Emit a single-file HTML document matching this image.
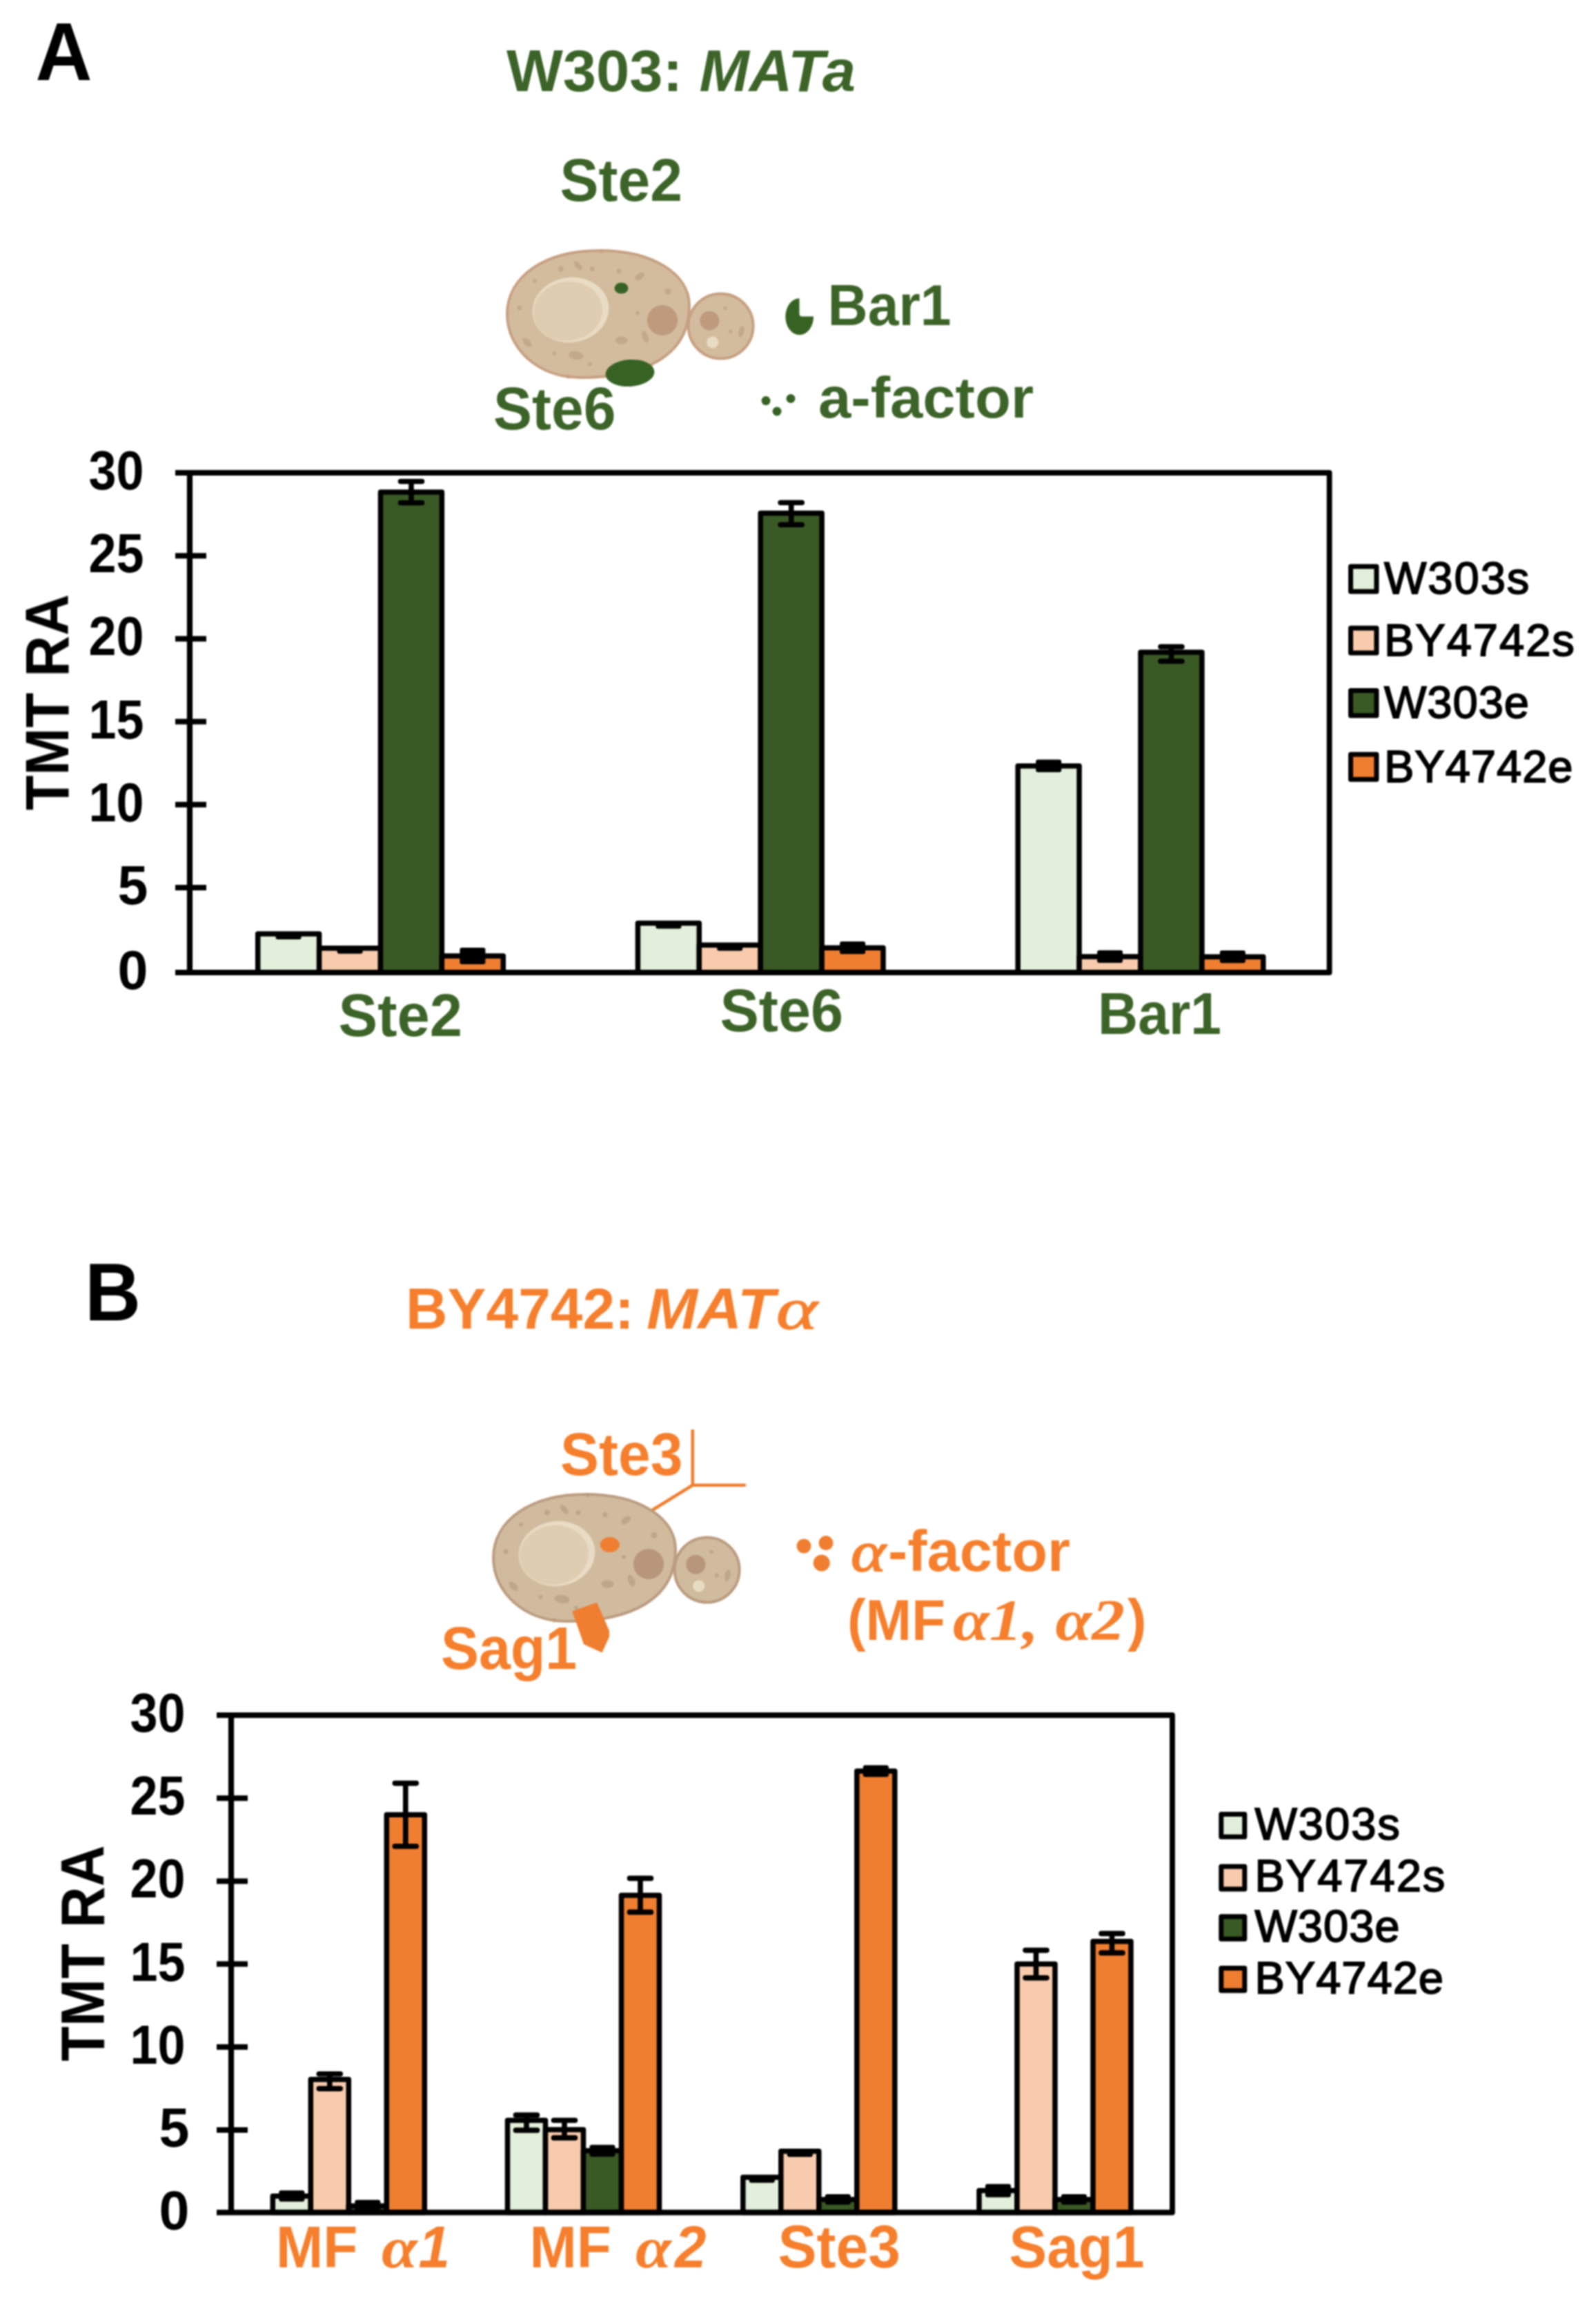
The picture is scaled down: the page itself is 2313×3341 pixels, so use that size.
<!DOCTYPE html>
<html lang="en">
<head>
<meta charset="utf-8">
<title>Figure: mating-type specific proteins (TMT RA)</title>
<style>html,body{margin:0;padding:0;background:#fff;overflow:hidden;width:2313px;height:3341px}svg{display:block}text{white-space:pre}</style>
</head>
<body>
<svg width="2313" height="3341" viewBox="0 0 2313 3341">
<rect width="2313" height="3341" fill="#fff"/>
<defs><filter id="soft" x="0" y="0" width="100%" height="100%" filterUnits="userSpaceOnUse" color-interpolation-filters="sRGB"><feGaussianBlur stdDeviation="0.9"/></filter></defs>
<g filter="url(#soft)">
<text x="51.5" y="115.5" font-family='"Liberation Sans", Arial, Helvetica, sans-serif' font-size="118" font-weight="bold" font-style="normal" fill="#000" text-anchor="start" textLength="82" lengthAdjust="spacingAndGlyphs">A</text>
<text x="734" y="132" font-family='"Liberation Sans", Arial, Helvetica, sans-serif' font-size="86" font-weight="bold" fill="#3C6428" textLength="506" lengthAdjust="spacingAndGlyphs">W303: <tspan font-style="italic">MATa</tspan></text>
<text x="811.5" y="290.5" font-family='"Liberation Sans", Arial, Helvetica, sans-serif' font-size="87.4" font-weight="bold" font-style="normal" fill="#3C6428" text-anchor="start" textLength="177.4" lengthAdjust="spacingAndGlyphs">Ste2</text>
<g transform="translate(0,0)">
<circle cx="1044.6" cy="472.5" r="47" fill="#D3BC9E" stroke="#C7A081" stroke-width="4"/>
<circle cx="1028.3" cy="464.7" r="14" fill="#BF9A7D"/>
<circle cx="1032.7" cy="496" r="8.5" fill="#E9DCC4"/>
<circle cx="1051" cy="446.5" r="2.8" fill="#C3A98B"/>
<circle cx="1058.7" cy="480.4" r="3" fill="#C3A98B"/>
<ellipse cx="1074.4" cy="480.4" rx="4" ry="8.5" fill="#C3A98B" transform="rotate(12 1074.4 480.4)"/>
<path d="M735,455 C735,400 790,363 869,363 C945,363 999,396 999,443 C999,515 935,547 841,547 C780,547 735,505 735,455 Z" fill="#D3BC9E" stroke="#C7A081" stroke-width="4"/>
<ellipse cx="827" cy="449" rx="55.5" ry="47" fill="#E9DCC4" transform="rotate(-8 827 449)"/>
<ellipse cx="823" cy="451" rx="50" ry="43" fill="#DFCDB1" transform="rotate(-8 823 451)"/>
<circle cx="960" cy="464" r="22" fill="#BF9A7D"/>
<ellipse cx="812.8" cy="389.5" rx="4" ry="4" fill="#C3A98B" transform="rotate(0 812.8 389.5)"/>
<ellipse cx="837.8" cy="384.8" rx="8" ry="4" fill="#C3A98B" transform="rotate(50 837.8 384.8)"/>
<ellipse cx="858" cy="389.5" rx="3.5" ry="3.5" fill="#C3A98B" transform="rotate(0 858 389.5)"/>
<ellipse cx="897" cy="392.7" rx="3.5" ry="3.5" fill="#C3A98B" transform="rotate(0 897 392.7)"/>
<ellipse cx="927" cy="400.5" rx="8" ry="4.5" fill="#C3A98B" transform="rotate(-35 927 400.5)"/>
<ellipse cx="968" cy="422.4" rx="4.5" ry="4.5" fill="#C3A98B" transform="rotate(0 968 422.4)"/>
<ellipse cx="775" cy="406.8" rx="3" ry="3" fill="#C3A98B" transform="rotate(0 775 406.8)"/>
<ellipse cx="753" cy="446" rx="3.5" ry="3.5" fill="#C3A98B" transform="rotate(0 753 446)"/>
<ellipse cx="924" cy="453.7" rx="3" ry="3" fill="#C3A98B" transform="rotate(0 924 453.7)"/>
<ellipse cx="935" cy="488" rx="4.5" ry="9" fill="#C3A98B" transform="rotate(-20 935 488)"/>
<ellipse cx="900.5" cy="493" rx="9" ry="5.5" fill="#C3A98B" transform="rotate(0 900.5 493)"/>
<ellipse cx="764" cy="496" rx="8" ry="4.5" fill="#C3A98B" transform="rotate(45 764 496)"/>
<ellipse cx="803.4" cy="511.7" rx="3" ry="3" fill="#C3A98B" transform="rotate(0 803.4 511.7)"/>
<ellipse cx="834.7" cy="514.8" rx="11" ry="6" fill="#C3A98B" transform="rotate(10 834.7 514.8)"/>
<ellipse cx="855" cy="527.4" rx="3" ry="3" fill="#C3A98B" transform="rotate(0 855 527.4)"/>
<circle cx="823.7" cy="545.5" r="3" fill="#C7A081"/>
<circle cx="871.7" cy="363.8" r="3" fill="#C7A081"/>
</g>
<ellipse cx="900.5" cy="417.5" rx="10" ry="8" fill="#366324"/>
<ellipse cx="913" cy="540.5" rx="35.5" ry="19.5" fill="#366324" transform="rotate(-4 913 540.5)"/>
<path d="M1158.5,432.3 V454.5 Q1158.5,458.5 1162.5,458.5 H1179 A20.3,26.5 0 0 1 1158.6,485.3 A20.3,26.5 0 0 1 1138.3,458.8 A20.3,26.5 0 0 1 1158.5,432.3 Z" fill="#366324"/>
<text x="1199.5" y="471" font-family='"Liberation Sans", Arial, Helvetica, sans-serif' font-size="84" font-weight="bold" font-style="normal" fill="#3C6428" text-anchor="start" textLength="179" lengthAdjust="spacingAndGlyphs">Bar1</text>
<circle cx="1110" cy="580.6" r="6.5" fill="#366324"/>
<circle cx="1146" cy="577.5" r="6.5" fill="#366324"/>
<circle cx="1126" cy="596" r="6.5" fill="#366324"/>
<text x="1186" y="604.5" font-family='"Liberation Sans", Arial, Helvetica, sans-serif' font-size="83" font-weight="bold" font-style="normal" fill="#3C6428" text-anchor="start" textLength="312" lengthAdjust="spacingAndGlyphs">a-factor</text>
<text x="715" y="622" font-family='"Liberation Sans", Arial, Helvetica, sans-serif' font-size="87.4" font-weight="bold" font-style="normal" fill="#3C6428" text-anchor="start" textLength="177.4" lengthAdjust="spacingAndGlyphs">Ste6</text>
<rect x="373.7" y="1353.0" width="88.9" height="56.0" fill="#E2EFDA" stroke="#000" stroke-width="7.5" stroke-linejoin="round"/>
<rect x="462.6" y="1373.7" width="88.9" height="35.3" fill="#F8CBAD" stroke="#000" stroke-width="7.5" stroke-linejoin="round"/>
<rect x="551.5" y="713.0" width="88.9" height="696.0" fill="#3A5A25" stroke="#000" stroke-width="7.5" stroke-linejoin="round"/>
<rect x="640.4" y="1385.0" width="88.9" height="24.0" fill="#EF7E30" stroke="#000" stroke-width="7.5" stroke-linejoin="round"/>
<rect x="399.6" y="1349.9" width="37" height="11.2" rx="3" fill="#000"/>
<rect x="488.6" y="1370.6" width="37" height="11.2" rx="3" fill="#000"/>
<path d="M596.0,697.5 V728.5 M580.5,697.5 H611.5 M580.5,728.5 H611.5" stroke="#000" stroke-width="7.6" stroke-linecap="round" fill="none"/>
<rect x="666.4" y="1372.9" width="37" height="24.2" rx="3" fill="#000"/>
<rect x="924.4" y="1337.4" width="88.9" height="71.6" fill="#E2EFDA" stroke="#000" stroke-width="7.5" stroke-linejoin="round"/>
<rect x="1013.3" y="1369.3" width="88.9" height="39.7" fill="#F8CBAD" stroke="#000" stroke-width="7.5" stroke-linejoin="round"/>
<rect x="1102.2" y="743.6" width="88.9" height="665.4" fill="#3A5A25" stroke="#000" stroke-width="7.5" stroke-linejoin="round"/>
<rect x="1191.1" y="1373.2" width="88.9" height="35.8" fill="#EF7E30" stroke="#000" stroke-width="7.5" stroke-linejoin="round"/>
<rect x="950.4" y="1334.3" width="37" height="11.2" rx="3" fill="#000"/>
<rect x="1039.2" y="1366.2" width="37" height="11.2" rx="3" fill="#000"/>
<path d="M1146.7,728.3 V760.3 M1131.2,728.3 H1162.2 M1131.2,760.3 H1162.2" stroke="#000" stroke-width="7.6" stroke-linecap="round" fill="none"/>
<rect x="1217.1" y="1364.1" width="37" height="18.2" rx="3" fill="#000"/>
<rect x="1475.2" y="1109.7" width="88.9" height="299.3" fill="#E2EFDA" stroke="#000" stroke-width="7.5" stroke-linejoin="round"/>
<rect x="1564.1" y="1385.9" width="88.9" height="23.1" fill="#F8CBAD" stroke="#000" stroke-width="7.5" stroke-linejoin="round"/>
<rect x="1653.0" y="945.0" width="88.9" height="464.0" fill="#3A5A25" stroke="#000" stroke-width="7.5" stroke-linejoin="round"/>
<rect x="1741.9" y="1386.2" width="88.9" height="22.8" fill="#EF7E30" stroke="#000" stroke-width="7.5" stroke-linejoin="round"/>
<rect x="1501.2" y="1100.6" width="37" height="18.2" rx="3" fill="#000"/>
<rect x="1590.1" y="1376.8" width="37" height="18.2" rx="3" fill="#000"/>
<path d="M1697.5,937.0 V958.0 M1682.0,937.0 H1713.0 M1682.0,958.0 H1713.0" stroke="#000" stroke-width="7.6" stroke-linecap="round" fill="none"/>
<rect x="1767.9" y="1377.1" width="37" height="18.2" rx="3" fill="#000"/>
<path d="M254,685 H1926.6 V1409 H254" stroke="#000" stroke-width="7.8" fill="none" stroke-linejoin="round"/>
<path d="M275,685 V1409" stroke="#000" stroke-width="8.2" fill="none"/>
<text x="208.5" y="709.0" font-family='"Liberation Sans", Arial, Helvetica, sans-serif' font-size="79" font-weight="bold" font-style="normal" fill="#000" text-anchor="end" textLength="80" lengthAdjust="spacingAndGlyphs">30</text>
<path d="M254,805.2 H299" stroke="#000" stroke-width="8"/>
<text x="208.5" y="829.2" font-family='"Liberation Sans", Arial, Helvetica, sans-serif' font-size="79" font-weight="bold" font-style="normal" fill="#000" text-anchor="end" textLength="80" lengthAdjust="spacingAndGlyphs">25</text>
<path d="M254,925.4 H299" stroke="#000" stroke-width="8"/>
<text x="208.5" y="949.4" font-family='"Liberation Sans", Arial, Helvetica, sans-serif' font-size="79" font-weight="bold" font-style="normal" fill="#000" text-anchor="end" textLength="80" lengthAdjust="spacingAndGlyphs">20</text>
<path d="M254,1045.6 H299" stroke="#000" stroke-width="8"/>
<text x="208.5" y="1069.6" font-family='"Liberation Sans", Arial, Helvetica, sans-serif' font-size="79" font-weight="bold" font-style="normal" fill="#000" text-anchor="end" textLength="80" lengthAdjust="spacingAndGlyphs">15</text>
<path d="M254,1165.8 H299" stroke="#000" stroke-width="8"/>
<text x="208.5" y="1189.8" font-family='"Liberation Sans", Arial, Helvetica, sans-serif' font-size="79" font-weight="bold" font-style="normal" fill="#000" text-anchor="end" textLength="80" lengthAdjust="spacingAndGlyphs">10</text>
<path d="M254,1286.0 H299" stroke="#000" stroke-width="8"/>
<text x="214.5" y="1310.0" font-family='"Liberation Sans", Arial, Helvetica, sans-serif' font-size="79" font-weight="bold" font-style="normal" fill="#000" text-anchor="end" >5</text>
<text x="214.5" y="1433.0" font-family='"Liberation Sans", Arial, Helvetica, sans-serif' font-size="79" font-weight="bold" font-style="normal" fill="#000" text-anchor="end" >0</text>
<text transform="translate(99,1017.5) rotate(-90)" text-anchor="middle" font-family='"Liberation Sans", Arial, Helvetica, sans-serif' font-size="89" font-weight="bold" fill="#000" textLength="313" lengthAdjust="spacingAndGlyphs">TMT RA</text>
<text x="490.5" y="1500.5" font-family='"Liberation Sans", Arial, Helvetica, sans-serif' font-size="86.3" font-weight="bold" font-style="normal" fill="#3C6428" text-anchor="start" textLength="179.5" lengthAdjust="spacingAndGlyphs">Ste2</text>
<text x="1043.5" y="1494" font-family='"Liberation Sans", Arial, Helvetica, sans-serif' font-size="86.3" font-weight="bold" font-style="normal" fill="#3C6428" text-anchor="start" textLength="178.5" lengthAdjust="spacingAndGlyphs">Ste6</text>
<text x="1591" y="1497.5" font-family='"Liberation Sans", Arial, Helvetica, sans-serif' font-size="85.3" font-weight="bold" font-style="normal" fill="#3C6428" text-anchor="start" textLength="179.0" lengthAdjust="spacingAndGlyphs">Bar1</text>
<rect x="1957.5" y="820.6999999999999" width="37.4" height="36.2" fill="#E2EFDA" stroke="#000" stroke-width="7" stroke-linejoin="round"/>
<text x="2006" y="860.4" font-family='"Liberation Sans", Arial, Helvetica, sans-serif' font-size="65" font-weight="normal" font-style="normal" fill="#000" text-anchor="start" letter-spacing="2" stroke="#000" stroke-width="1.8">W303s</text>
<rect x="1957.5" y="909.9" width="37.4" height="36.2" fill="#F8CBAD" stroke="#000" stroke-width="7" stroke-linejoin="round"/>
<text x="2006" y="949.6" font-family='"Liberation Sans", Arial, Helvetica, sans-serif' font-size="65" font-weight="normal" font-style="normal" fill="#000" text-anchor="start" letter-spacing="2" stroke="#000" stroke-width="1.8">BY4742s</text>
<rect x="1957.5" y="1000.5" width="37.4" height="36.2" fill="#3A5A25" stroke="#000" stroke-width="7" stroke-linejoin="round"/>
<text x="2006" y="1040.2" font-family='"Liberation Sans", Arial, Helvetica, sans-serif' font-size="65" font-weight="normal" font-style="normal" fill="#000" text-anchor="start" letter-spacing="1" stroke="#000" stroke-width="1.8">W303e</text>
<rect x="1957.5" y="1093.1" width="37.4" height="36.2" fill="#EF7E30" stroke="#000" stroke-width="7" stroke-linejoin="round"/>
<text x="2006" y="1132.8" font-family='"Liberation Sans", Arial, Helvetica, sans-serif' font-size="65" font-weight="normal" font-style="normal" fill="#000" text-anchor="start" letter-spacing="1" stroke="#000" stroke-width="1.8">BY4742e</text>
<text x="123" y="1912.5" font-family='"Liberation Sans", Arial, Helvetica, sans-serif' font-size="119" font-weight="bold" font-style="normal" fill="#000" text-anchor="start" textLength="81" lengthAdjust="spacingAndGlyphs">B</text>
<text x="588" y="1925" font-family='"Liberation Sans", Arial, Helvetica, sans-serif' font-size="84" font-weight="bold" fill="#F57F2C" textLength="331" lengthAdjust="spacingAndGlyphs">BY4742:</text>
<text x="937" y="1925" font-family='"Liberation Sans", Arial, Helvetica, sans-serif' font-size="84" font-weight="bold" font-style="italic" fill="#F57F2C" textLength="186" lengthAdjust="spacingAndGlyphs">MAT</text>
<text x="1125" y="1925" font-family='"Liberation Serif", "Times New Roman", serif' font-size="85" font-weight="normal" font-style="italic" fill="#F57F2C" text-anchor="start" stroke="#F57F2C" stroke-width="1.4" textLength="59.8" lengthAdjust="spacingAndGlyphs">α</text>
<text x="812" y="2136.5" font-family='"Liberation Sans", Arial, Helvetica, sans-serif' font-size="87.4" font-weight="bold" font-style="normal" fill="#F57F2C" text-anchor="start" textLength="177.4" lengthAdjust="spacingAndGlyphs">Ste3</text>
<path d="M1003.8,2073 V2151.8 H1079 M1003.8,2151.8 L946,2187.5" stroke="#EF7E30" stroke-width="4.6" fill="none" stroke-linecap="round" stroke-linejoin="round"/>
<g transform="translate(-20,1802)">
<circle cx="1044.6" cy="472.5" r="47" fill="#D0BB9E" stroke="#BC9C80" stroke-width="4"/>
<circle cx="1028.3" cy="464.7" r="14" fill="#B8967B"/>
<circle cx="1032.7" cy="496" r="8.5" fill="#E9DCC4"/>
<circle cx="1051" cy="446.5" r="2.8" fill="#BDA689"/>
<circle cx="1058.7" cy="480.4" r="3" fill="#BDA689"/>
<ellipse cx="1074.4" cy="480.4" rx="4" ry="8.5" fill="#BDA689" transform="rotate(12 1074.4 480.4)"/>
<path d="M735,455 C735,400 790,363 869,363 C945,363 999,396 999,443 C999,515 935,547 841,547 C780,547 735,505 735,455 Z" fill="#D0BB9E" stroke="#BC9C80" stroke-width="4"/>
<ellipse cx="827" cy="449" rx="55.5" ry="47" fill="#E9DCC4" transform="rotate(-8 827 449)"/>
<ellipse cx="823" cy="451" rx="50" ry="43" fill="#DFCDB1" transform="rotate(-8 823 451)"/>
<circle cx="960" cy="464" r="22" fill="#B8967B"/>
<ellipse cx="812.8" cy="389.5" rx="4" ry="4" fill="#BDA689" transform="rotate(0 812.8 389.5)"/>
<ellipse cx="837.8" cy="384.8" rx="8" ry="4" fill="#BDA689" transform="rotate(50 837.8 384.8)"/>
<ellipse cx="858" cy="389.5" rx="3.5" ry="3.5" fill="#BDA689" transform="rotate(0 858 389.5)"/>
<ellipse cx="897" cy="392.7" rx="3.5" ry="3.5" fill="#BDA689" transform="rotate(0 897 392.7)"/>
<ellipse cx="927" cy="400.5" rx="8" ry="4.5" fill="#BDA689" transform="rotate(-35 927 400.5)"/>
<ellipse cx="968" cy="422.4" rx="4.5" ry="4.5" fill="#BDA689" transform="rotate(0 968 422.4)"/>
<ellipse cx="775" cy="406.8" rx="3" ry="3" fill="#BDA689" transform="rotate(0 775 406.8)"/>
<ellipse cx="753" cy="446" rx="3.5" ry="3.5" fill="#BDA689" transform="rotate(0 753 446)"/>
<ellipse cx="924" cy="453.7" rx="3" ry="3" fill="#BDA689" transform="rotate(0 924 453.7)"/>
<ellipse cx="935" cy="488" rx="4.5" ry="9" fill="#BDA689" transform="rotate(-20 935 488)"/>
<ellipse cx="900.5" cy="493" rx="9" ry="5.5" fill="#BDA689" transform="rotate(0 900.5 493)"/>
<ellipse cx="764" cy="496" rx="8" ry="4.5" fill="#BDA689" transform="rotate(45 764 496)"/>
<ellipse cx="803.4" cy="511.7" rx="3" ry="3" fill="#BDA689" transform="rotate(0 803.4 511.7)"/>
<ellipse cx="834.7" cy="514.8" rx="11" ry="6" fill="#BDA689" transform="rotate(10 834.7 514.8)"/>
<ellipse cx="855" cy="527.4" rx="3" ry="3" fill="#BDA689" transform="rotate(0 855 527.4)"/>
<circle cx="823.7" cy="545.5" r="3" fill="#BC9C80"/>
<circle cx="871.7" cy="363.8" r="3" fill="#BC9C80"/>
</g>
<ellipse cx="883.8" cy="2238" rx="14" ry="11" fill="#EF7E30"/>
<path d="M830.5,2335 L864.4,2323 L882,2362.7 L882,2371.4 L872,2393 L846.8,2381.5 Z" fill="#EF7E30" stroke="#EF7E30" stroke-width="2" stroke-linejoin="round"/>
<text x="639" y="2418" font-family='"Liberation Sans", Arial, Helvetica, sans-serif' font-size="87.4" font-weight="bold" font-style="normal" fill="#F57F2C" text-anchor="start" textLength="197.2" lengthAdjust="spacingAndGlyphs">Sag1</text>
<circle cx="1165" cy="2240" r="10.5" fill="#EF7E30"/>
<circle cx="1197" cy="2235.6" r="10.5" fill="#EF7E30"/>
<circle cx="1190.7" cy="2264.6" r="12" fill="#EF7E30"/>
<text x="1233" y="2276" font-family='"Liberation Serif", "Times New Roman", serif' font-size="82" font-weight="normal" font-style="italic" fill="#F57F2C" text-anchor="start" stroke="#F57F2C" stroke-width="1.8" textLength="50.8" lengthAdjust="spacingAndGlyphs">α</text>
<text x="1287" y="2276" font-family='"Liberation Sans", Arial, Helvetica, sans-serif' font-size="83" font-weight="bold" font-style="normal" fill="#F57F2C" text-anchor="start" textLength="264" lengthAdjust="spacingAndGlyphs">-factor</text>
<text x="1228" y="2375.5" font-family='"Liberation Sans", Arial, Helvetica, sans-serif' font-size="83" font-weight="bold" font-style="normal" fill="#F57F2C" text-anchor="start" textLength="142" lengthAdjust="spacingAndGlyphs">(MF</text>
<text x="1381" y="2375.5" font-family='"Liberation Serif", "Times New Roman", serif' font-size="84" font-weight="bold" font-style="italic" fill="#F57F2C" textLength="249" lengthAdjust="spacingAndGlyphs">α1, α2</text>
<text x="1634" y="2375.5" font-family='"Liberation Sans", Arial, Helvetica, sans-serif' font-size="83" font-weight="bold" font-style="normal" fill="#F57F2C" text-anchor="start" >)</text>
<rect x="395.3" y="3181.7" width="55.0" height="23.8" fill="#E2EFDA" stroke="#000" stroke-width="7.5" stroke-linejoin="round"/>
<rect x="450.3" y="3012.7" width="55.0" height="192.8" fill="#F8CBAD" stroke="#000" stroke-width="7.5" stroke-linejoin="round"/>
<rect x="505.3" y="3195.9" width="55.0" height="9.6" fill="#3A5A25" stroke="#000" stroke-width="7.5" stroke-linejoin="round"/>
<rect x="560.3" y="2629.3" width="55.0" height="576.2" fill="#EF7E30" stroke="#000" stroke-width="7.5" stroke-linejoin="round"/>
<rect x="404.3" y="3173.6" width="37" height="16.2" rx="3" fill="#000"/>
<path d="M477.8,3004.7 V3026.1 M462.3,3004.7 H493.3 M462.3,3026.1 H493.3" stroke="#000" stroke-width="7.6" stroke-linecap="round" fill="none"/>
<rect x="514.3" y="3187.3" width="37" height="17.2" rx="3" fill="#000"/>
<path d="M587.8,2583.6 V2675.0 M572.3,2583.6 H603.3 M572.3,2675.0 H603.3" stroke="#000" stroke-width="7.6" stroke-linecap="round" fill="none"/>
<rect x="735.5" y="3072.1" width="55.0" height="133.4" fill="#E2EFDA" stroke="#000" stroke-width="7.5" stroke-linejoin="round"/>
<rect x="790.5" y="3085.5" width="55.0" height="120.0" fill="#F8CBAD" stroke="#000" stroke-width="7.5" stroke-linejoin="round"/>
<rect x="845.5" y="3116.1" width="55.0" height="89.4" fill="#3A5A25" stroke="#000" stroke-width="7.5" stroke-linejoin="round"/>
<rect x="900.5" y="2745.9" width="55.0" height="459.6" fill="#EF7E30" stroke="#000" stroke-width="7.5" stroke-linejoin="round"/>
<path d="M763.0,3064.4 V3086.4 M747.5,3064.4 H778.5 M747.5,3086.4 H778.5" stroke="#000" stroke-width="7.6" stroke-linecap="round" fill="none"/>
<path d="M818.0,3072.0 V3097.4 M802.5,3072.0 H833.5 M802.5,3097.4 H833.5" stroke="#000" stroke-width="7.6" stroke-linecap="round" fill="none"/>
<rect x="854.5" y="3107.5" width="37" height="17.2" rx="3" fill="#000"/>
<path d="M928.0,2721.4 V2770.4 M912.5,2721.4 H943.5 M912.5,2770.4 H943.5" stroke="#000" stroke-width="7.6" stroke-linecap="round" fill="none"/>
<rect x="1076.8" y="3154.5" width="55.0" height="51.0" fill="#E2EFDA" stroke="#000" stroke-width="7.5" stroke-linejoin="round"/>
<rect x="1131.8" y="3116.8" width="55.0" height="88.7" fill="#F8CBAD" stroke="#000" stroke-width="7.5" stroke-linejoin="round"/>
<rect x="1186.8" y="3186.7" width="55.0" height="18.8" fill="#3A5A25" stroke="#000" stroke-width="7.5" stroke-linejoin="round"/>
<rect x="1241.8" y="2566.0" width="55.0" height="639.5" fill="#EF7E30" stroke="#000" stroke-width="7.5" stroke-linejoin="round"/>
<rect x="1085.8" y="3151.4" width="37" height="11.2" rx="3" fill="#000"/>
<rect x="1140.8" y="3113.7" width="37" height="11.2" rx="3" fill="#000"/>
<rect x="1195.8" y="3179.1" width="37" height="15.2" rx="3" fill="#000"/>
<rect x="1250.8" y="2557.4" width="37" height="17.2" rx="3" fill="#000"/>
<rect x="1419.0" y="3173.8" width="55.0" height="31.7" fill="#E2EFDA" stroke="#000" stroke-width="7.5" stroke-linejoin="round"/>
<rect x="1474.0" y="2845.6" width="55.0" height="359.9" fill="#F8CBAD" stroke="#000" stroke-width="7.5" stroke-linejoin="round"/>
<rect x="1529.0" y="3186.7" width="55.0" height="18.8" fill="#3A5A25" stroke="#000" stroke-width="7.5" stroke-linejoin="round"/>
<rect x="1584.0" y="2812.7" width="55.0" height="392.8" fill="#EF7E30" stroke="#000" stroke-width="7.5" stroke-linejoin="round"/>
<rect x="1428.0" y="3164.2" width="37" height="19.2" rx="3" fill="#000"/>
<path d="M1501.5,2825.6 V2865.6 M1486.0,2825.6 H1517.0 M1486.0,2865.6 H1517.0" stroke="#000" stroke-width="7.6" stroke-linecap="round" fill="none"/>
<rect x="1538.0" y="3179.1" width="37" height="15.2" rx="3" fill="#000"/>
<path d="M1611.5,2801.4 V2829.4 M1596.0,2801.4 H1627.0 M1596.0,2829.4 H1627.0" stroke="#000" stroke-width="7.6" stroke-linecap="round" fill="none"/>
<path d="M314,2485 H1699 V3205.5 H314" stroke="#000" stroke-width="7.8" fill="none" stroke-linejoin="round"/>
<path d="M335,2485 V3205.5" stroke="#000" stroke-width="8.2" fill="none"/>
<text x="268.5" y="2509.0" font-family='"Liberation Sans", Arial, Helvetica, sans-serif' font-size="79" font-weight="bold" font-style="normal" fill="#000" text-anchor="end" textLength="80" lengthAdjust="spacingAndGlyphs">30</text>
<path d="M314,2605.2 H359" stroke="#000" stroke-width="8"/>
<text x="268.5" y="2629.2" font-family='"Liberation Sans", Arial, Helvetica, sans-serif' font-size="79" font-weight="bold" font-style="normal" fill="#000" text-anchor="end" textLength="80" lengthAdjust="spacingAndGlyphs">25</text>
<path d="M314,2725.4 H359" stroke="#000" stroke-width="8"/>
<text x="268.5" y="2749.4" font-family='"Liberation Sans", Arial, Helvetica, sans-serif' font-size="79" font-weight="bold" font-style="normal" fill="#000" text-anchor="end" textLength="80" lengthAdjust="spacingAndGlyphs">20</text>
<path d="M314,2845.6 H359" stroke="#000" stroke-width="8"/>
<text x="268.5" y="2869.6" font-family='"Liberation Sans", Arial, Helvetica, sans-serif' font-size="79" font-weight="bold" font-style="normal" fill="#000" text-anchor="end" textLength="80" lengthAdjust="spacingAndGlyphs">15</text>
<path d="M314,2965.8 H359" stroke="#000" stroke-width="8"/>
<text x="268.5" y="2989.8" font-family='"Liberation Sans", Arial, Helvetica, sans-serif' font-size="79" font-weight="bold" font-style="normal" fill="#000" text-anchor="end" textLength="80" lengthAdjust="spacingAndGlyphs">10</text>
<path d="M314,3086.0 H359" stroke="#000" stroke-width="8"/>
<text x="274.5" y="3110.0" font-family='"Liberation Sans", Arial, Helvetica, sans-serif' font-size="79" font-weight="bold" font-style="normal" fill="#000" text-anchor="end" >5</text>
<text x="274.5" y="3229.5" font-family='"Liberation Sans", Arial, Helvetica, sans-serif' font-size="79" font-weight="bold" font-style="normal" fill="#000" text-anchor="end" >0</text>
<text transform="translate(150.5,2830) rotate(-90)" text-anchor="middle" font-family='"Liberation Sans", Arial, Helvetica, sans-serif' font-size="89" font-weight="bold" fill="#000" textLength="313" lengthAdjust="spacingAndGlyphs">TMT RA</text>
<rect x="1769.8" y="2628.6" width="34" height="32.6" fill="#E2EFDA" stroke="#000" stroke-width="7" stroke-linejoin="round"/>
<text x="1818.5" y="2664.7" font-family='"Liberation Sans", Arial, Helvetica, sans-serif' font-size="65" font-weight="normal" font-style="normal" fill="#000" text-anchor="start" letter-spacing="2" stroke="#000" stroke-width="1.8">W303s</text>
<rect x="1769.8" y="2704.3" width="34" height="32.6" fill="#F8CBAD" stroke="#000" stroke-width="7" stroke-linejoin="round"/>
<text x="1818.5" y="2740.4" font-family='"Liberation Sans", Arial, Helvetica, sans-serif' font-size="65" font-weight="normal" font-style="normal" fill="#000" text-anchor="start" letter-spacing="2" stroke="#000" stroke-width="1.8">BY4742s</text>
<rect x="1769.8" y="2776.7000000000003" width="34" height="32.6" fill="#3A5A25" stroke="#000" stroke-width="7" stroke-linejoin="round"/>
<text x="1818.5" y="2812.8" font-family='"Liberation Sans", Arial, Helvetica, sans-serif' font-size="65" font-weight="normal" font-style="normal" fill="#000" text-anchor="start" letter-spacing="1" stroke="#000" stroke-width="1.8">W303e</text>
<rect x="1769.8" y="2851.4" width="34" height="32.6" fill="#EF7E30" stroke="#000" stroke-width="7" stroke-linejoin="round"/>
<text x="1818.5" y="2887.5" font-family='"Liberation Sans", Arial, Helvetica, sans-serif' font-size="65" font-weight="normal" font-style="normal" fill="#000" text-anchor="start" letter-spacing="1" stroke="#000" stroke-width="1.8">BY4742e</text>
<text x="400" y="3284.5" font-family='"Liberation Sans", Arial, Helvetica, sans-serif' font-size="85.3" font-weight="bold" font-style="normal" fill="#F57F2C" text-anchor="start" textLength="118.4" lengthAdjust="spacingAndGlyphs">MF</text>
<text x="553" y="3284.5" font-family='"Liberation Serif", "Times New Roman", serif' font-size="84" font-weight="bold" font-style="italic" fill="#F57F2C" text-anchor="start" textLength="52.0" lengthAdjust="spacingAndGlyphs">α</text>
<text x="606.5" y="3284.5" font-family='"Liberation Sans", Arial, Helvetica, sans-serif' font-size="85.3" font-weight="bold" font-style="italic" fill="#F57F2C" text-anchor="start" textLength="45.6" lengthAdjust="spacingAndGlyphs">1</text>
<text x="767.5" y="3284.5" font-family='"Liberation Sans", Arial, Helvetica, sans-serif' font-size="85.3" font-weight="bold" font-style="normal" fill="#F57F2C" text-anchor="start" textLength="118.4" lengthAdjust="spacingAndGlyphs">MF</text>
<text x="921" y="3284.5" font-family='"Liberation Serif", "Times New Roman", serif' font-size="84" font-weight="bold" font-style="italic" fill="#F57F2C" text-anchor="start" textLength="52.0" lengthAdjust="spacingAndGlyphs">α</text>
<text x="978" y="3284.5" font-family='"Liberation Sans", Arial, Helvetica, sans-serif' font-size="85.3" font-weight="bold" font-style="italic" fill="#F57F2C" text-anchor="start" textLength="45.6" lengthAdjust="spacingAndGlyphs">2</text>
<text x="1127.5" y="3284.5" font-family='"Liberation Sans", Arial, Helvetica, sans-serif' font-size="87.4" font-weight="bold" font-style="normal" fill="#F57F2C" text-anchor="start" textLength="177.4" lengthAdjust="spacingAndGlyphs">Ste3</text>
<text x="1462.5" y="3284.5" font-family='"Liberation Sans", Arial, Helvetica, sans-serif' font-size="85.3" font-weight="bold" font-style="normal" fill="#F57F2C" text-anchor="start" textLength="196.0" lengthAdjust="spacingAndGlyphs">Sag1</text>
</g>
</svg>
</body>
</html>
